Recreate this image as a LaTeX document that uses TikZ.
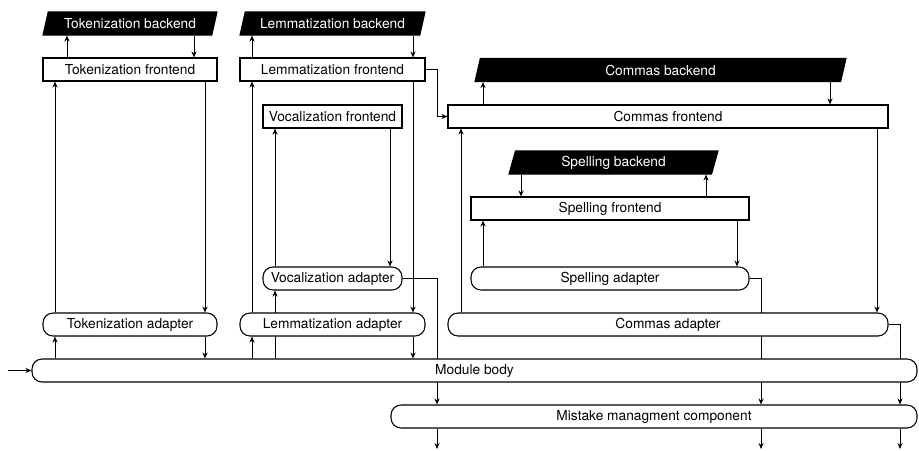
\documentclass[tikz,border=0pt]{standalone}
\usepackage{fontspec}
\setmainfont{TeX Gyre Heros}
\usetikzlibrary{
    arrows.meta,
    backgrounds,
    shapes.geometric
}
\definecolor{ink}{RGB}{0,0,0}
\definecolor{paper}{RGB}{255,255,255}
\tikzset{
    line cap=round,
    line join=round,
    wd/.style={minimum width=0.75pt*#1},
    base box/.style={
        draw=ink,
        line width=0.8pt,
        fill=paper,
        text=ink,
        minimum height=17.25pt,
        inner sep=1pt,
        font=\fontsize{10.3}{12}\selectfont
    },
    frontend/.style={base box, rectangle},
    adapter/.style={base box, rectangle, rounded corners=7.5pt},
    backend/.style={
        base box,
        trapezium,
        trapezium left angle=68,
        trapezium right angle=112,
        trapezium stretches body,
        fill=ink,
        text=paper
    },
    flow/.style={
        -{Stealth[length=4.5pt,width=3.8pt]},
        draw=ink,
        line width=0.7pt
    }
}

\begin{document}
\begin{tikzpicture}[x=0.75pt, y=-0.75pt]
\useasboundingbox (0,0) rectangle (919,450);

% Tokenization
\node[backend, wd=174] (tokback) at (130,23.5) {Tokenization backend};
\node[frontend, wd=174] (tokfront) at (130,69.5) {Tokenization frontend};
\node[adapter, wd=174] (tokadapt) at (130,324.5) {Tokenization adapter};

% Lemmatization and vocalization
\node[backend, wd=185] (lemback) at (332.5,23.5) {Lemmatization backend};
\node[frontend, wd=185] (lemfront) at (332.5,69.5) {Lemmatization frontend};
\node[frontend, wd=139] (vocfront) at (332.5,116.5) {Vocalization frontend};
\node[adapter, wd=139] (vocadapt) at (332.5,278.5) {Vocalization adapter};
\node[adapter, wd=185] (lemadapt) at (332.5,324.5) {Lemmatization adapter};

% Commas and spelling
\node[backend, wd=371] (commback) at (660.5,70) {Commas backend};
\node[frontend, wd=440] (commfront) at (668,116.5) {Commas frontend};
\node[backend, wd=209] (spellback) at (613.5,162.5) {Spelling backend};
\node[frontend, wd=278] (spellfront) at (610,208.5) {Spelling frontend};
\node[adapter, wd=278] (spelladapt) at (610,278.5) {Spelling adapter};
\node[adapter, wd=440] (commadapt) at (668,324.5) {Commas adapter};

% Body and mistakes
\node[adapter, wd=885] (body) at (474.5,370.5) {Module body};
\node[adapter, wd=526] (mistake) at (654,416.5) {Mistake managment component};

\coordinate (input) at (8,370.5);
\coordinate (output) at (0,449);

% columns of the vertical links
\coordinate (tA) at (55,0);
\coordinate (tB) at (205,0);
\coordinate (tC) at (67,0);
\coordinate (tD) at (194,0);
\coordinate (lA) at (252,0);
\coordinate (lB) at (413,0);
\coordinate (vA) at (275,0);
\coordinate (vB) at (390,0);
\coordinate (mA) at (437,0);
\coordinate (cA) at (461,0);
\coordinate (cC) at (483,0);
\coordinate (sC) at (521,0);
\coordinate (sD) at (706,0);
\coordinate (sB) at (737,0);
\coordinate (sE) at (761,0);
\coordinate (cD) at (830,0);
\coordinate (cB) at (877,0);
\coordinate (cE) at (900,0);

\begin{scope}[on background layer]
    % Tokenization
    \draw[flow] (body.north -| tA) -- (tokadapt.south -| tA);
    \draw[flow] (tokadapt.north -| tA) -- (tokfront.south -| tA);
    \draw[flow] (tokfront.north -| tC) -- (tokback.south -| tC);
    \draw[flow] (tokback.south -| tD) -- (tokfront.north -| tD);
    \draw[flow] (tokfront.south -| tB) -- (tokadapt.north -| tB);
    \draw[flow] (tokadapt.south -| tB) -- (body.north -| tB);

    % Lemmatization
    \draw[flow] (body.north -| lA) -- (lemadapt.south -| lA);
    \draw[flow] (lemadapt.north -| lA) -- (lemfront.south -| lA);
    \draw[flow] (lemfront.north -| lA) -- (lemback.south -| lA);
    \draw[flow] (lemback.south -| lB) -- (lemfront.north -| lB);
    \draw[flow] (lemfront.south -| lB) -- (lemadapt.north -| lB);
    \draw[flow] (lemadapt.south -| lB) -- (body.north -| lB);
    \draw[flow] (lemfront.east) -- (lemfront.east -| mA) |- (commfront.west);

    % Vocalization
    \draw[flow] (body.north -| vA) -- (vocadapt.south -| vA);
    \draw[flow] (vocadapt.north -| vA) -- (vocfront.south -| vA);
    \draw[flow] (vocfront.south -| vB) -- (vocadapt.north -| vB);
    \draw[flow] (vocadapt.east) -- (vocadapt.east -| mA) -- (mistake.north -| mA);

    % Commas
    \draw[flow] (commadapt.north -| cA) -- (commfront.south -| cA);
    \draw[flow] (commfront.north -| cC) -- (commback.south -| cC);
    \draw[flow] (commback.south -| cD) -- (commfront.north -| cD);
    \draw[flow] (commfront.south -| cB) -- (commadapt.north -| cB);
    \draw[flow] (commadapt.east) -- (commadapt.east -| cE) -- (mistake.north -| cE);

    % Spelling
    \draw[flow] (spelladapt.north -| cC) -- (spellfront.south -| cC);
    \draw[flow] (spellback.south -| sC) -- (spellfront.north -| sC);
    \draw[flow] (spellfront.north -| sD) -- (spellback.south -| sD);
    \draw[flow] (spellfront.south -| sB) -- (spelladapt.north -| sB);
    \draw[flow] (spelladapt.east) -- (spelladapt.east -| sE) -- (mistake.north -| sE);

    % In and out
    \draw[flow] (input) -- (body.west);
    \foreach \col in {mA, sE, cE}
        \draw[flow] (mistake.south -| \col) -- (\col |- output);
\end{scope}

\end{tikzpicture}
\end{document}
